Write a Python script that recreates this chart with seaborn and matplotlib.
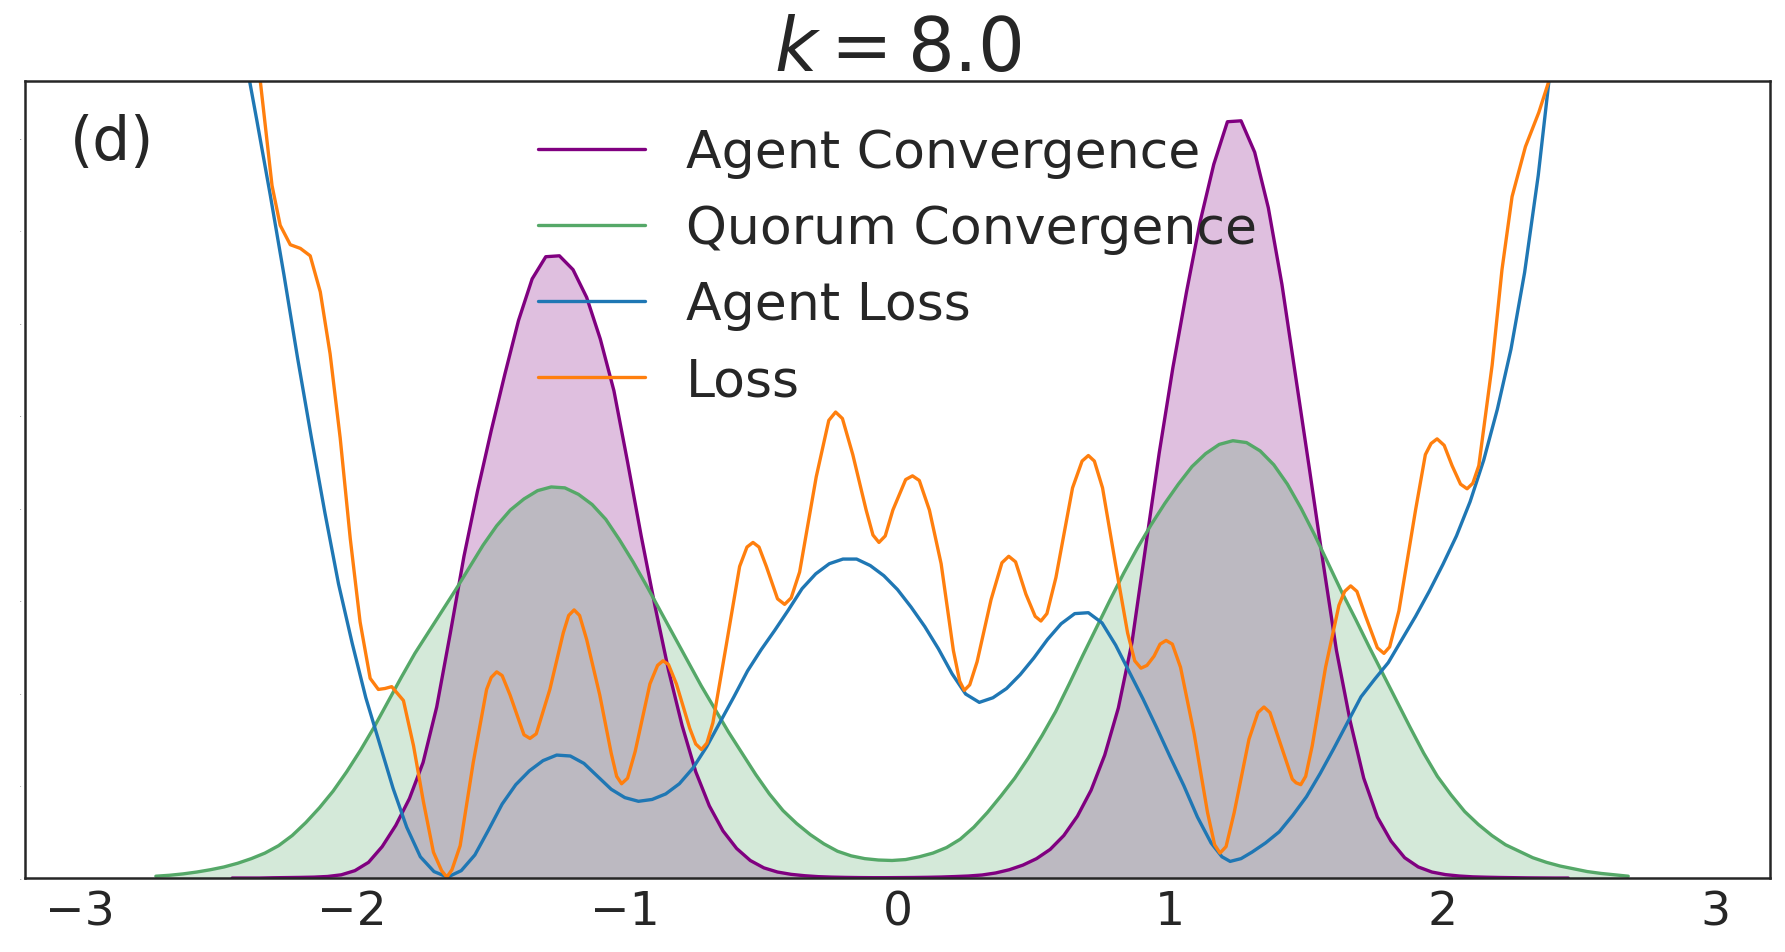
import matplotlib
matplotlib.use("Agg")
import matplotlib.pyplot as plt
import seaborn as sns

# ---------------- data ----------------
agent_conv_x = [-2.44, -2.39, -2.34, -2.29, -2.24, -2.19, -2.14, -2.09, -2.04, -1.99,
                -1.94, -1.89, -1.84, -1.79, -1.74, -1.69, -1.64, -1.59, -1.54, -1.49,
                -1.44, -1.39, -1.34, -1.29, -1.24, -1.19, -1.14, -1.09, -1.04, -0.99,
                -0.94, -0.89, -0.84, -0.79, -0.74, -0.69, -0.64, -0.59, -0.54, -0.49,
                -0.44, -0.39, -0.34, -0.29, -0.24, -0.19, -0.14, -0.09, -0.04, 0.01,
                0.06, 0.11, 0.16, 0.21, 0.26, 0.31, 0.36, 0.41, 0.46, 0.51,
                0.56, 0.61, 0.66, 0.71, 0.76, 0.81, 0.86, 0.91, 0.96, 1.01,
                1.06, 1.11, 1.16, 1.21, 1.26, 1.31, 1.36, 1.41, 1.46, 1.51,
                1.56, 1.61, 1.66, 1.71, 1.76, 1.81, 1.86, 1.91, 1.96, 2.01,
                2.06, 2.11, 2.16, 2.21, 2.26, 2.31, 2.36, 2.41, 2.46]
agent_conv_y = [0.0, 0.0, 0.0, 0.003, 0.005, 0.007, 0.01, 0.017, 0.035, 0.08,
                0.17, 0.34, 0.57, 0.86, 1.25, 1.85, 2.65, 3.48, 4.19, 4.84,
                5.45, 6.03, 6.48, 6.72, 6.73, 6.58, 6.28, 5.83, 5.27, 4.50,
                3.70, 2.95, 2.25, 1.65, 1.15, 0.78, 0.51, 0.32, 0.19, 0.11,
                0.065, 0.04, 0.025, 0.015, 0.01, 0.007, 0.005, 0.004, 0.004, 0.005,
                0.006, 0.008, 0.011, 0.016, 0.022, 0.033, 0.055, 0.09, 0.14, 0.21,
                0.31, 0.46, 0.67, 0.95, 1.33, 1.84, 2.55, 3.58, 4.60, 5.52,
                6.34, 7.10, 7.72, 8.18, 8.19, 7.85, 7.25, 6.42, 5.43, 4.44,
                3.43, 2.46, 1.70, 1.08, 0.66, 0.40, 0.22, 0.12, 0.065, 0.037,
                0.022, 0.013, 0.009, 0.006, 0.004, 0.002, 0.001, 0.0, 0.0]

quorum_conv_x = [-2.72, -2.67, -2.62, -2.57, -2.52, -2.47, -2.42, -2.37, -2.32, -2.27,
                 -2.22, -2.17, -2.12, -2.07, -2.02, -1.97, -1.92, -1.87, -1.82, -1.77,
                 -1.72, -1.67, -1.62, -1.57, -1.52, -1.47, -1.42, -1.37, -1.32, -1.27,
                 -1.22, -1.17, -1.12, -1.07, -1.02, -0.97, -0.92, -0.87, -0.82, -0.77,
                 -0.72, -0.67, -0.62, -0.57, -0.52, -0.47, -0.42, -0.37, -0.32, -0.27,
                 -0.22, -0.17, -0.12, -0.07, -0.02, 0.03, 0.08, 0.13, 0.18, 0.23,
                 0.28, 0.33, 0.38, 0.43, 0.48, 0.53, 0.58, 0.63, 0.68, 0.73,
                 0.78, 0.83, 0.88, 0.93, 0.98, 1.03, 1.08, 1.13, 1.18, 1.23,
                 1.28, 1.33, 1.38, 1.43, 1.48, 1.53, 1.58, 1.63, 1.68, 1.73,
                 1.78, 1.83, 1.88, 1.93, 1.98, 2.03, 2.08, 2.13, 2.18, 2.23,
                 2.28, 2.33, 2.38, 2.43, 2.48, 2.53, 2.58, 2.63, 2.68]
quorum_conv_y = [0.02, 0.03, 0.045, 0.065, 0.09, 0.12, 0.16, 0.21, 0.27, 0.35,
                 0.46, 0.60, 0.76, 0.94, 1.15, 1.38, 1.63, 1.90, 2.17, 2.43,
                 2.66, 2.89, 3.12, 3.36, 3.60, 3.81, 3.98, 4.10, 4.19, 4.23,
                 4.22, 4.15, 4.04, 3.88, 3.66, 3.42, 3.16, 2.89, 2.62, 2.35,
                 2.08, 1.83, 1.58, 1.35, 1.12, 0.91, 0.73, 0.59, 0.47, 0.37,
                 0.29, 0.24, 0.21, 0.195, 0.19, 0.20, 0.23, 0.27, 0.33, 0.42,
                 0.55, 0.71, 0.89, 1.08, 1.30, 1.54, 1.80, 2.10, 2.41, 2.71,
                 3.01, 3.30, 3.57, 3.82, 4.05, 4.26, 4.45, 4.59, 4.69, 4.73,
                 4.71, 4.62, 4.47, 4.26, 4.00, 3.71, 3.40, 3.09, 2.80, 2.50,
                 2.21, 1.92, 1.63, 1.35, 1.10, 0.90, 0.72, 0.58, 0.46, 0.36,
                 0.29, 0.22, 0.17, 0.13, 0.10, 0.07, 0.05, 0.035, 0.02]

agent_loss_x = [-2.40, -2.35, -2.30, -2.25, -2.20, -2.15, -2.10, -2.05, -2.00, -1.95,
                -1.90, -1.85, -1.80, -1.75, -1.70, -1.65, -1.60, -1.55, -1.50, -1.45,
                -1.40, -1.35, -1.30, -1.25, -1.20, -1.15, -1.10, -1.05, -1.00, -0.95,
                -0.90, -0.85, -0.80, -0.75, -0.70, -0.65, -0.60, -0.55, -0.50, -0.45,
                -0.40, -0.35, -0.30, -0.25, -0.20, -0.15, -0.10, -0.05, 0.00, 0.05,
                0.10, 0.15, 0.20, 0.25, 0.30, 0.35, 0.40, 0.45, 0.50, 0.55,
                0.60, 0.65, 0.70, 0.75, 0.80, 0.85, 0.90, 0.95, 1.00, 1.05,
                1.10, 1.15, 1.19, 1.22, 1.26, 1.30, 1.35, 1.40, 1.45, 1.50, 1.55,
                1.60, 1.65, 1.70, 1.75, 1.80, 1.85, 1.90, 1.95, 2.00, 2.05,
                2.10, 2.15, 2.20, 2.25, 2.30, 2.35, 2.40]
agent_loss_y = [9.00, 8.20, 7.38, 6.52, 5.62, 4.77, 3.95, 3.18, 2.54, 1.95,
                1.46, 0.97, 0.55, 0.23, 0.07, 0.01, 0.08, 0.25, 0.52, 0.80,
                1.01, 1.16, 1.27, 1.33, 1.32, 1.24, 1.10, 0.96, 0.87, 0.83,
                0.85, 0.91, 1.02, 1.19, 1.42, 1.69, 1.96, 2.24, 2.47, 2.68,
                2.90, 3.13, 3.29, 3.40, 3.45, 3.45, 3.38, 3.27, 3.12, 2.93,
                2.72, 2.48, 2.21, 1.99, 1.90, 1.95, 2.05, 2.20, 2.38, 2.58,
                2.75, 2.86, 2.87, 2.76, 2.52, 2.23, 1.94, 1.63, 1.31, 1.00,
                0.66, 0.38, 0.23, 0.18, 0.21, 0.28, 0.38, 0.50, 0.68, 0.88, 1.13,
                1.40, 1.68, 1.96, 2.15, 2.33, 2.58, 2.83, 3.10, 3.39, 3.70,
                4.07, 4.52, 5.07, 5.72, 6.55, 7.60, 8.90]

loss_x = [-2.35, -2.337, -2.294, -2.264, -2.227, -2.19, -2.154, -2.117, -2.081, -2.044,
          -2.007, -1.971, -1.934, -1.904, -1.88, -1.855, -1.812, -1.775, -1.739, -1.702,
          -1.672, -1.653, -1.634, -1.604, -1.556, -1.507, -1.49, -1.47, -1.45, -1.421,
          -1.37, -1.348, -1.325, -1.275, -1.226, -1.206, -1.186, -1.166, -1.14, -1.092,
          -1.05, -1.03, -1.012, -0.99, -0.962, -0.908, -0.88, -0.86, -0.84, -0.811,
          -0.762, -0.74, -0.719, -0.699, -0.677, -0.628, -0.579, -0.552, -0.53, -0.508,
          -0.481, -0.44, -0.414, -0.39, -0.359, -0.298, -0.252, -0.227, -0.202, -0.164,
          -0.115, -0.09, -0.068, -0.045, -0.017, 0.03, 0.055, 0.08, 0.117, 0.16,
          0.205, 0.228, 0.245, 0.265, 0.292, 0.343, 0.383, 0.408, 0.433, 0.471,
          0.505, 0.526, 0.548, 0.581, 0.642, 0.677, 0.70, 0.722, 0.752, 0.801,
          0.844, 0.87, 0.893, 0.915, 0.941, 0.963, 0.985, 1.008, 1.038, 1.088,
          1.137, 1.163, 1.183, 1.205, 1.235, 1.289, 1.322, 1.344, 1.366, 1.399,
          1.448, 1.462, 1.479, 1.497, 1.521, 1.57, 1.619, 1.64, 1.662, 1.685,
          1.717, 1.76, 1.784, 1.805, 1.839, 1.90, 1.936, 1.957, 1.979, 2.005,
          2.034, 2.065, 2.089, 2.11, 2.132, 2.181, 2.217, 2.254, 2.303, 2.352,
          2.388, 2.40]
loss_y = [8.95, 8.62, 7.49, 7.06, 6.85, 6.81, 6.73, 6.34, 5.67, 4.76,
          3.67, 2.77, 2.16, 2.04, 2.05, 2.07, 1.92, 1.43, 0.83, 0.28,
          0.08, 0.01, 0.09, 0.35, 1.25, 2.04, 2.17, 2.23, 2.19, 1.98,
          1.55, 1.51, 1.56, 2.04, 2.65, 2.84, 2.90, 2.84, 2.58, 1.98,
          1.35, 1.10, 1.02, 1.08, 1.37, 2.10, 2.30, 2.35, 2.31, 2.10,
          1.62, 1.45, 1.39, 1.46, 1.68, 2.52, 3.37, 3.58, 3.63, 3.58,
          3.37, 3.02, 2.96, 3.03, 3.31, 4.34, 4.95, 5.04, 4.97, 4.58,
          3.98, 3.71, 3.63, 3.70, 3.98, 4.31, 4.35, 4.30, 3.98, 3.40,
          2.46, 2.13, 2.03, 2.09, 2.34, 3.01, 3.41, 3.48, 3.42, 3.07,
          2.83, 2.78, 2.86, 3.25, 4.22, 4.51, 4.57, 4.51, 4.22, 3.37,
          2.65, 2.35, 2.27, 2.30, 2.40, 2.53, 2.57, 2.53, 2.28, 1.56,
          0.71, 0.36, 0.27, 0.34, 0.71, 1.50, 1.79, 1.85, 1.79, 1.50,
          1.07, 1.03, 1.01, 1.10, 1.43, 2.28, 2.95, 3.10, 3.16, 3.10,
          2.83, 2.49, 2.43, 2.50, 2.89, 3.98, 4.58, 4.70, 4.75, 4.68,
          4.46, 4.26, 4.21, 4.27, 4.46, 5.55, 6.58, 7.37, 7.91, 8.28,
          8.61, 8.80]

series_labels = ["Agent Convergence", "Quorum Convergence", "Agent Loss", "Loss"]
x_ticks = [-3, -2, -1, 0, 1, 2, 3]
y_ticks = [0, 1, 2, 3, 4, 5, 6, 7, 8]
title_text = r"$k = 8.0$"
panel_label = "(d)"

# ---------------- styling ----------------
sns.set_theme(style="white")
plt.rcParams["font.family"] = ["DejaVu Sans"]
plt.rcParams["axes.edgecolor"] = ".15"
plt.rcParams["text.color"] = ".15"
plt.rcParams["xtick.color"] = ".15"
plt.rcParams["ytick.color"] = ".15"

purple = "#800080"
green = "#55a868"
blue = "#1f77b4"
orange = "#ff7f0e"

fig = plt.figure(figsize=(17.85, 9.53), dpi=100)
ax = fig.add_axes([0.014, 0.0776, 0.9776, 0.8363])

ax.fill_between(agent_conv_x, agent_conv_y, 0, color=purple, alpha=0.25, linewidth=0)
ax.fill_between(quorum_conv_x, quorum_conv_y, 0, color=green, alpha=0.25, linewidth=0)

lw = 2.4
common = dict(ax=ax, lw=lw, sort=False, estimator=None)
sns.lineplot(x=agent_conv_x, y=agent_conv_y, color=purple, label=series_labels[0], **common)
sns.lineplot(x=quorum_conv_x, y=quorum_conv_y, color=green, label=series_labels[1], **common)
sns.lineplot(x=agent_loss_x, y=agent_loss_y, color=blue, label=series_labels[2], **common)
sns.lineplot(x=loss_x, y=loss_y, color=orange, label=series_labels[3], **common)
for ln in ax.get_lines():
    ln.set_solid_joinstyle("round")

ax.set_xlim(-3.2, 3.2)
ax.set_ylim(0, 8.62)
ax.set_xticks(x_ticks)
ax.set_xticklabels([f"{t}".replace("-", "\u2212") for t in x_ticks])
ax.set_yticks(y_ticks)
ax.set_yticklabels([str(t) for t in y_ticks])
ax.tick_params(axis="x", labelsize=34, length=0, pad=8)
ax.tick_params(axis="y", labelsize=1.5, length=0, pad=3)
for s in ax.spines.values():
    s.set_linewidth(1.8)
    s.set_color(".15")

ax.set_title(title_text, fontsize=53, pad=8)
ax.text(0.026, 0.923, panel_label, transform=ax.transAxes, fontsize=43,
        ha="left", va="center")

ax.legend(loc="upper left", bbox_to_anchor=(0.282, 0.967), frameon=False,
          fontsize=37.5, labelspacing=0.5, handlelength=2.05, borderaxespad=0)

fig.savefig("out.png", dpi=100)
